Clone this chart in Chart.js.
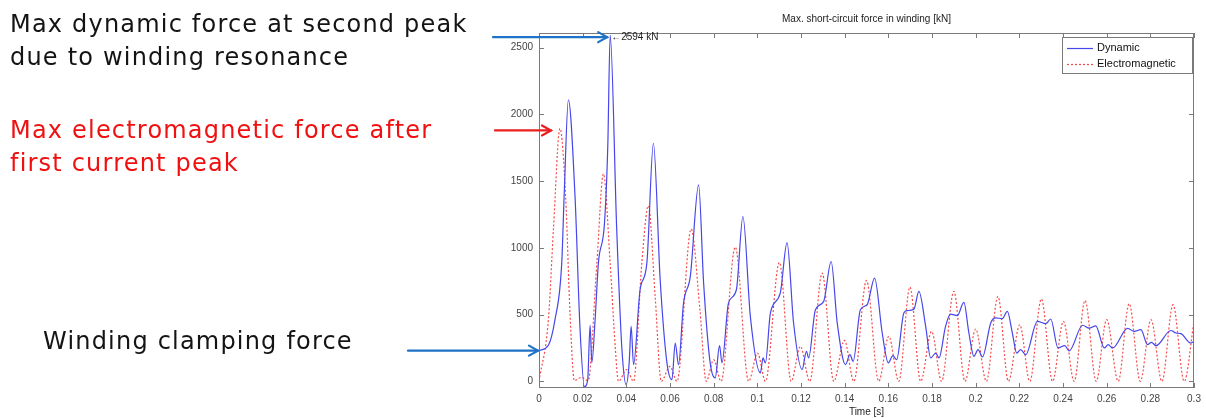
<!DOCTYPE html>
<html>
<head>
<meta charset="utf-8">
<script src="https://cdn.jsdelivr.net/npm/chart.js@4.4.1/dist/chart.umd.min.js"></script>
<style>
  html,body{margin:0;padding:0;background:#fff;}
  #wrap{position:relative;width:1206px;height:418px;overflow:hidden;}
  #chart{position:absolute;left:0;top:0;}
  .note{position:absolute;font-family:"DejaVu Sans";font-size:24px;line-height:33px;white-space:nowrap;color:#141414;letter-spacing:1.2px;}
  .note.red{color:#f01010;}
</style>
</head>
<body>
<div id="wrap">
  <canvas id="chart" width="1206" height="418"></canvas>
  <div class="note" style="left:10px;top:8px">Max dynamic force at second peak<br>due to winding resonance</div>
  <div class="note red" style="left:10px;top:114px">Max electromagnetic force after<br>first current peak</div>
  <div class="note" style="left:43px;top:325px">Winding clamping force</div>
</div>
<script>
// values: time [s] and force [kN]
const dynT = [0, 0.0043, 0.0073, 0.0104, 0.0116, 0.01345, 0.0165, 0.0188, 0.0208, 0.0223, 0.0234, 0.0242, 0.0257, 0.0272, 0.030, 0.0315, 0.0326,
  0.0356, 0.0379, 0.0399, 0.0413, 0.0422, 0.0433, 0.0463, 0.0494, 0.0524, 0.0555, 0.0586, 0.0609, 0.0624, 0.0639, 0.0662, 0.0693, 0.0731,
  0.0754, 0.0784, 0.0807, 0.0827, 0.0838, 0.0868, 0.0904, 0.0934, 0.0968, 0.1014, 0.1026, 0.1037, 0.106, 0.1105, 0.1136,
  0.1166, 0.1205, 0.1225, 0.1235, 0.1266, 0.1304, 0.1338, 0.1366, 0.1404, 0.1424, 0.1439, 0.1472, 0.1503, 0.1537,
  0.1572, 0.16, 0.1621, 0.1638, 0.1671, 0.1686, 0.1717, 0.174, 0.1771, 0.1794, 0.1817, 0.1832, 0.1862, 0.1885, 0.1916, 0.1946,
  0.1969, 0.1992, 0.2011, 0.2031, 0.2069, 0.2092, 0.2122, 0.2145, 0.2168, 0.2188, 0.2206, 0.2229, 0.2283, 0.2321, 0.2344,
  0.2377, 0.2408, 0.2428, 0.249, 0.252, 0.255, 0.2589, 0.2607, 0.2627, 0.2696, 0.2726, 0.2757, 0.2787, 0.2805, 0.2826,
  0.2894, 0.2917, 0.294, 0.2986, 0.3];
const dynV = [230, 270, 460, 880, 1430, 2110, 1385, 390, -40, 10, 420, 140, 462, 886, 1186, 1759, 2594,
  1135, 262, -25, 137, 412, 125, 686, 886, 1784, 761, 138, 13, 287, 125, 587, 786, 1472,
  736, 138, 25, 267, 138, 587, 686, 1235, 487, 63, 175, 138, 512, 661, 1040,
  437, 88, 225, 175, 537, 599, 898, 437, 125, 200, 150, 537, 574, 774,
  362, 138, 192, 162, 512, 530, 540, 674, 412, 175, 212, 175, 412, 504, 492, 591,
  362, 187, 237, 182, 437, 475, 470, 524, 362, 212, 237, 200, 449, 432, 467,
  250, 267, 228, 420, 398, 415, 250, 275, 250, 397, 374, 387, 275, 292, 267,
  381, 362, 357, 287, 300];

const emT = [0, 0.0043, 0.0066, 0.0096, 0.0122, 0.0142, 0.0162, 0.0195, 0.0225, 0.0265, 0.0295, 0.0326, 0.0349, 0.0364,
  0.0402, 0.0433, 0.0471, 0.0501, 0.0532, 0.056, 0.06, 0.0632, 0.0697, 0.0737, 0.0766, 0.08, 0.0834, 0.0899, 0.096,
  0.1001, 0.1037, 0.1101, 0.1155, 0.1197, 0.124, 0.1297, 0.135, 0.1399, 0.1442, 0.15, 0.1556, 0.1602, 0.1648, 0.1699,
  0.1748, 0.1798, 0.1844, 0.19, 0.1951, 0.2, 0.2049, 0.2102, 0.215, 0.2202, 0.2248, 0.2301, 0.2352, 0.2402, 0.2451,
  0.2501, 0.2552, 0.26, 0.2653, 0.2703, 0.2754, 0.2803, 0.2853, 0.2904, 0.2955, 0.3];
const emV = [0, 462, 1135, 1895, 1385, 512, 5, 30, 5, 886, 1555, 886, 262, 0,
  88, 0, 886, 1315, 636, 0, 112, 0, 1141, 537, 0, 162, 0, 1006, 0,
  212, 0, 891, 0, 262, 0, 811, 0, 307, 0, 756, 0, 337, 0, 706,
  0, 374, 0, 674, 0, 392, 0, 636, 0, 424, 0, 617, 0, 449, 0,
  606, 0, 462, 0, 582, 0, 462, 0, 574, 0, 449];

const xTicks = [0, 0.02, 0.04, 0.06, 0.08, 0.1, 0.12, 0.14, 0.16, 0.18, 0.2, 0.22, 0.24, 0.26, 0.28, 0.3];
const yTicks = [0, 500, 1000, 1500, 2000, 2500];
const peakLabel = "2594 kN";

const BLUE = "rgb(70,70,235)";
const RED = "rgb(245,75,75)";
const AXIS = "#7a7a7a";
const FONT = "Liberation Sans";

function pts(ts, vs){ return ts.map((t,i)=>({x:t, y:vs[i]})); }

// matlab style box with inward ticks on all four sides
const boxAxes = {
  id: "boxAxes",
  afterDatasetsDraw(chart){
    const {ctx, chartArea:a, scales:{x, y}} = chart;
    ctx.save();
    ctx.strokeStyle = AXIS; ctx.lineWidth = 1;
    ctx.strokeRect(a.left+0.5, a.top+0.5, a.width-1, a.height-1);
    ctx.beginPath();
    x.ticks.forEach(t=>{
      const px = Math.round(x.getPixelForValue(t.value))+0.5;
      ctx.moveTo(px, a.bottom); ctx.lineTo(px, a.bottom-5);
      ctx.moveTo(px, a.top); ctx.lineTo(px, a.top+5);
    });
    y.ticks.forEach(t=>{
      const py = Math.round(y.getPixelForValue(t.value))+0.5;
      ctx.moveTo(a.left, py); ctx.lineTo(a.left+5, py);
      ctx.moveTo(a.right, py); ctx.lineTo(a.right-5, py);
    });
    ctx.stroke();
    ctx.restore();
  }
};

function arrow(ctx, x0, y0, x1, y1, color){
  ctx.save();
  ctx.strokeStyle = color; ctx.lineWidth = 2.2; ctx.lineCap = "round";
  ctx.beginPath(); ctx.moveTo(x0, y0); ctx.lineTo(x1, y1); ctx.stroke();
  ctx.beginPath(); ctx.moveTo(x1-9, y1-5); ctx.lineTo(x1, y1); ctx.lineTo(x1-9, y1+5); ctx.stroke();
  ctx.restore();
}

// legend inside the plot, peak label and the slide's pointer arrows
const extras = {
  id: "extras",
  afterDraw(chart){
    const {ctx, chartArea:a, scales:{x, y}} = chart;
    const ds = chart.data.datasets;

    // legend box
    const lx = a.right-132, ly = a.top+4, lw = 130, lh = 36;
    ctx.save();
    ctx.fillStyle = "#fff"; ctx.fillRect(lx, ly, lw, lh);
    ctx.strokeStyle = AXIS; ctx.lineWidth = 1; ctx.strokeRect(lx+0.5, ly+0.5, lw, lh);
    ctx.font = "11px '" + FONT + "'"; ctx.textBaseline = "middle"; ctx.fillStyle = "#111";
    ds.forEach((d, i)=>{
      const ry = ly + 11 + i*16;
      ctx.beginPath();
      ctx.strokeStyle = d.borderColor; ctx.lineWidth = 1.2;
      ctx.setLineDash(d.borderDash || []);
      ctx.moveTo(lx+5, ry+0.5); ctx.lineTo(lx+31, ry+0.5); ctx.stroke();
      ctx.setLineDash([]);
      ctx.fillText(d.label, lx+35, ry);
    });

    // peak label
    let ip = 0; dynV.forEach((v,i)=>{ if(v > dynV[ip]) ip = i; });
    const px = x.getPixelForValue(dynT[ip]), py = y.getPixelForValue(dynV[ip]);
    ctx.font = "10px '" + FONT + "'"; ctx.fillStyle = "#222"; ctx.textBaseline = "middle";
    ctx.fillText("\u2190" + peakLabel, px+1, py+2);
    ctx.restore();

    // pointers
    arrow(ctx, 493, py+2, px-3, py+2, "rgb(30,115,200)");
    let ie = 0; emV.forEach((v,i)=>{ if(v > emV[ie]) ie = i; });
    const ex = x.getPixelForValue(emT[ie]), ey = y.getPixelForValue(emV[ie]);
    arrow(ctx, 495, ey+2, ex-9, ey+2, "rgb(235,30,30)");
    arrow(ctx, 408, y.getPixelForValue(dynV[0]), a.left-1, y.getPixelForValue(dynV[0]), "rgb(30,115,200)");
  }
};

new Chart(document.getElementById("chart"), {
  type: "line",
  data: {
    datasets: [
      { label: "Dynamic", data: pts(dynT, dynV), borderColor: BLUE, borderWidth: 1.2,
        pointRadius: 0, cubicInterpolationMode: "monotone", fill: false },
      { label: "Electromagnetic", data: pts(emT, emV), borderColor: RED, borderWidth: 1.2,
        borderDash: [2, 2], pointRadius: 0, cubicInterpolationMode: "monotone", fill: false }
    ]
  },
  options: {
    responsive: false,
    animation: false,
    layout: { padding: { left: 0, right: 12, top: 0, bottom: 0 } },
    plugins: {
      legend: { display: false },
      tooltip: { enabled: false },
      title: { display: true, text: "Max. short-circuit force in winding [kN]", fullSize: false,
        color: "#222", font: { family: FONT, size: 10, weight: "normal" }, padding: { top: 13, bottom: 8 } }
    },
    scales: {
      x: {
        type: "linear", min: 0, max: 0.3,
        grid: { display: false, drawTicks: false }, border: { display: false },
        afterBuildTicks: s => { s.ticks = xTicks.map(v=>({value:v})); },
        afterFit: s => { s.height = 30; },
        ticks: { color: "#444", font: { family: FONT, size: 10 }, padding: 5, maxRotation: 0, autoSkip: false,
          callback: v => String(Math.round(v*100)/100) },
        title: { display: true, text: "Time [s]", color: "#222", font: { family: FONT, size: 10 }, padding: 0 }
      },
      y: {
        min: -50, max: 2610,
        grid: { display: false, drawTicks: false }, border: { display: false },
        afterBuildTicks: s => { s.ticks = yTicks.map(v=>({value:v})); },
        afterFit: s => { s.width = 539; },
        ticks: { color: "#444", font: { family: FONT, size: 10 }, padding: 6, callback: v => String(v) }
      }
    }
  },
  plugins: [boxAxes, extras]
});
</script>
</body>
</html>
